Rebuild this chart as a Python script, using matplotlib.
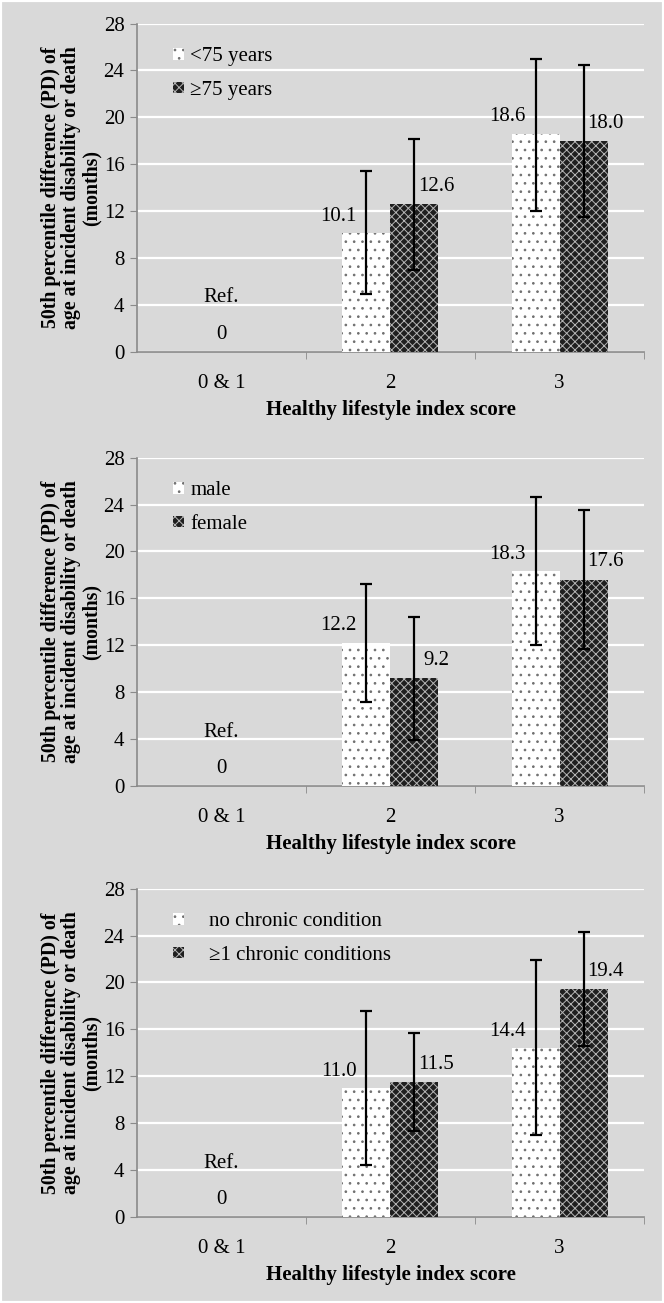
import numpy as np
import matplotlib
matplotlib.use("Agg")
import matplotlib.pyplot as plt
from matplotlib.patches import Rectangle

plt.rcParams['font.family'] = ['Liberation Serif', 'DejaVu Serif']
plt.rcParams['hatch.linewidth'] = 0.7

# dane (3 panele)
categories = ["0 & 1", "2", "3"]

legend_labels = [["<75 years", "\u226575 years"],
                 ["male", "female"],
                 ["no chronic condition", "\u22651 chronic conditions"]]

# wartosci dla score 2 i 3 (score 0&1 = Ref., 0)
group1_vals = [[10.1, 18.6], [12.2, 18.3], [11.0, 14.4]]
group2_vals = [[12.6, 18.0], [9.2, 17.6], [11.5, 19.4]]

group1_lo = [[4.9, 12.0], [7.2, 12.0], [4.4, 7.0]]
group1_hi = [[15.4, 25.0], [17.2, 24.6], [17.6, 21.9]]
group2_lo = [[7.0, 11.5], [3.9, 11.7], [7.3, 14.6]]
group2_hi = [[18.2, 24.5], [14.4, 23.5], [15.7, 24.3]]

y_ticks = [0, 4, 8, 12, 16, 20, 24, 28]

BG = "#d9d9d9"
fig = plt.figure(figsize=(6.64, 13.03), dpi=100, facecolor=BG)
fig.patches.append(Rectangle((0, 0), 1, 1, transform=fig.transFigure, fill=False,
                             edgecolor="white", linewidth=3))

bottoms = [0.7299, 0.3968, 0.066]
w = 0.284
x = np.array([1, 2])
FS = 15

for i in range(3):
    ax = fig.add_axes([0.2063, bottoms[i], 0.7636, 0.252])
    ax.set_facecolor(BG)

    v1 = np.array(group1_vals[i]); v2 = np.array(group2_vals[i])
    ax.bar(x - w/2, v1, w, color="white", edgecolor="#6f6f6f", linewidth=0,
           hatch="..", label=legend_labels[i][0], zorder=3)
    ax.bar(x + w/2, v2, w, color="#1f1f1f", edgecolor="#b5b5b5", linewidth=0,
           hatch="xxxx", label=legend_labels[i][1], zorder=3)

    err1 = [v1 - np.array(group1_lo[i]), np.array(group1_hi[i]) - v1]
    err2 = [v2 - np.array(group2_lo[i]), np.array(group2_hi[i]) - v2]
    ax.errorbar(x - w/2, v1, yerr=err1, fmt="none", ecolor="black", elinewidth=1.6,
                capsize=4, capthick=1.6, zorder=4)
    ax.errorbar(x + w/2, v2, yerr=err2, fmt="none", ecolor="black", elinewidth=1.6,
                capsize=4, capthick=1.6, zorder=4)

    for xi, v in zip(x - w/2, v1):
        ax.text(xi - 0.165, v + 1.45, f"{v:.1f}", ha="center", va="center", fontsize=FS, zorder=5)
    for xi, v in zip(x + w/2, v2):
        ax.text(xi + 0.13, v + 1.5, f"{v:.1f}", ha="center", va="center", fontsize=FS, zorder=5)

    ax.text(0, 4.6, "Ref.", ha="center", va="center", fontsize=FS)
    ax.text(0, 1.45, "0", ha="center", va="center", fontsize=FS)

    ax.set_xlim(-0.5, 2.5)
    ax.set_ylim(0, 28)
    ax.set_yticks(y_ticks)
    ax.set_xticks(range(3))
    ax.set_xticklabels(categories, fontsize=FS)
    ax.set_xticks([0.5, 1.5, 2.5], minor=True)
    ax.tick_params(axis="x", which="major", length=0, pad=16)
    ax.tick_params(axis="x", which="minor", length=5, color="#8a8a8a", direction="out")
    ax.tick_params(axis="y", length=5, color="#8a8a8a", labelsize=FS, pad=4)
    ax.grid(axis="y", color="white", linewidth=1.6, zorder=0)
    ax.set_axisbelow(True)
    for s in ["top", "right"]:
        ax.spines[s].set_visible(False)
    for s in ["left", "bottom"]:
        ax.spines[s].set_color("#8a8a8a")
        ax.spines[s].set_linewidth(1.2)

    ax.set_xlabel("Healthy lifestyle index score", fontsize=FS, fontweight="bold", labelpad=5)
    ax.set_ylabel("50th percentile difference (PD) of\nage at incident disability or death\n(months)",
                  fontsize=14.3, fontweight="bold", linespacing=1.0)
    ax.yaxis.set_label_coords(-0.07, 0.5)

    pad = 1.2 if i == 2 else 0.3
    ax.legend(loc="upper left", bbox_to_anchor=(0.035, 0.985), frameon=False, fontsize=FS,
              handlelength=0.5, handleheight=0.5, handletextpad=pad, labelspacing=0.7)

fig.savefig("out.png", dpi=100, facecolor=BG)
